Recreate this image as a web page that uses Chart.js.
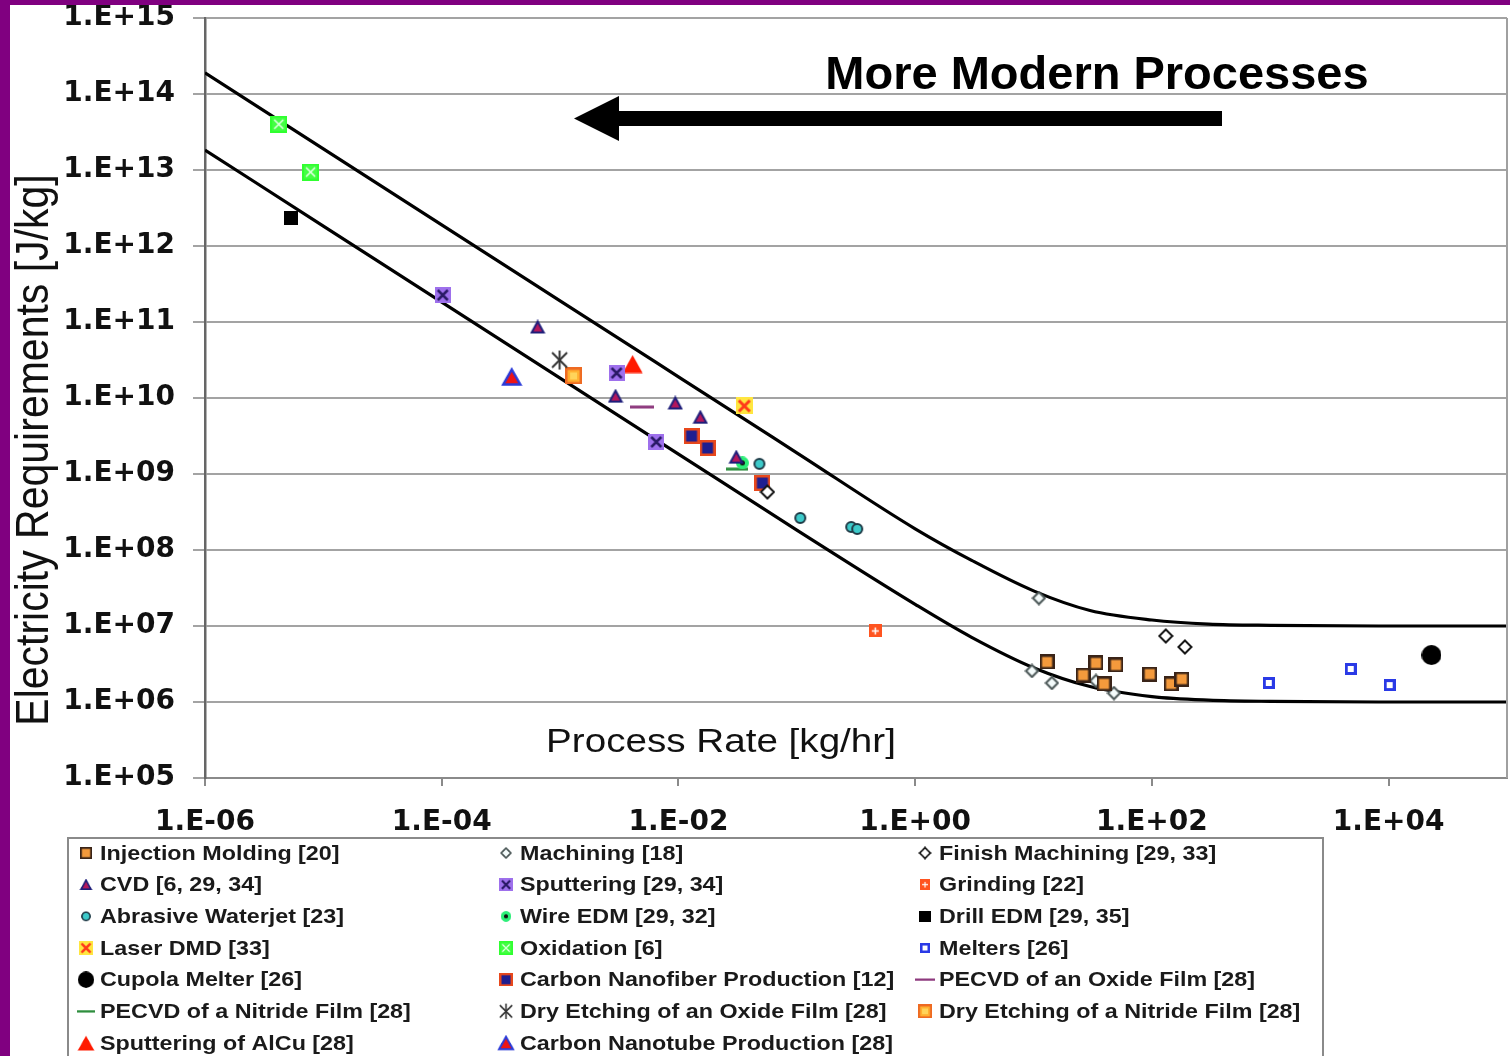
<!DOCTYPE html>
<html><head><meta charset="utf-8">
<script src="https://cdn.jsdelivr.net/npm/chart.js@4.4.1/dist/chart.umd.min.js"></script>
<style>
html,body{margin:0;padding:0;background:#fff;}
#wrap{position:relative;width:1510px;height:1056px;background:#fff;overflow:hidden}
#c{position:absolute;left:0;top:0}
.pl{position:absolute;left:0;top:0;width:10px;height:1056px;background:#800080}
.pt{position:absolute;left:0;top:0;width:1510px;height:5px;background:#800080}
</style></head><body>
<div id="wrap"><canvas id="c" width="1510" height="1056"></canvas><div class="pl"></div><div class="pt"></div></div>
<script>
// ---------- tick values / labels ----------
const xTickValues = [1e-6, 1e-4, 1e-2, 1e0, 1e2, 1e4];
const xTickLabels = ['1.E-06', '1.E-04', '1.E-02', '1.E+00', '1.E+02', '1.E+04'];
const yTickValues = [1e5, 1e6, 1e7, 1e8, 1e9, 1e10, 1e11, 1e12, 1e13, 1e14, 1e15];
const yTickLabels = ['1.E+05', '1.E+06', '1.E+07', '1.E+08', '1.E+09', '1.E+10', '1.E+11', '1.E+12', '1.E+13', '1.E+14', '1.E+15'];

// ---------- bounding curves ----------
const upperBoundRate   = [1e-6, 1e-5, 1e-4, 1e-3, 1e-2, 1e-1, 1, 3, 10, 30, 100, 300, 1000, 1e4, 1e5];
const upperBoundEnergy = [1.9e14, 1.9e13, 1.9e12, 1.9e11, 1.9e10, 1.9e9, 1.9e8, 7.3e7, 2.9e7, 1.6e7, 1.2e7, 1.06e7, 1.02e7, 1.0e7, 1.0e7];
const lowerBoundRate   = [1e-6, 1e-5, 1e-4, 1e-3, 1e-2, 1e-1, 1, 3, 10, 30, 100, 300, 1000, 1e4, 1e5];
const lowerBoundEnergy = [1.83e13, 1.83e12, 1.83e11, 1.83e10, 1.83e9, 1.83e8, 1.93e7, 7.1e6, 2.83e6, 1.6e6, 1.18e6, 1.06e6, 1.02e6, 1.0e6, 1.0e6];

// ---------- process series: rate [kg/hr], electricity [J/kg] ----------
const injectionMoldingRate   = [13.0, 26.2, 33.7, 49.7, 39.4, 96, 145, 179];
const injectionMoldingEnergy = [3.36e6, 2.26e6, 3.26e6, 3.07e6, 1.73e6, 2.33e6, 1.73e6, 2.0e6];
const machiningRate   = [11.1, 9.7, 14.3, 33.7, 47.8];
const machiningEnergy = [2.33e7, 2.56e6, 1.78e6, 1.89e6, 1.31e6];
const finishMachiningRate   = [0.0564, 131, 190];
const finishMachiningEnergy = [5.8e8, 7.4e6, 5.3e6];
const cvdRate   = [6.46e-4, 2.94e-3, 9.4e-3, 1.53e-2, 3.08e-2];
const cvdEnergy = [8.6e10, 1.06e10, 8.6e9, 5.6e9, 1.67e9];
const sputteringRate   = [1.02e-4, 3.0e-3, 6.5e-3];
const sputteringEnergy = [2.26e11, 2.13e10, 2.64e9];
const grindingRate   = [0.46];
const grindingEnergy = [8.6e6];
const waterjetRate   = [0.0483, 0.107, 0.288, 0.324];
const waterjetEnergy = [1.36e9, 2.64e8, 2.01e8, 1.89e8];
const wireEdmRate   = [3.47e-2];
const wireEdmEnergy = [1.4e9];
const drillEdmRate   = [5.3e-6];
const drillEdmEnergy = [2.33e12];
const laserDmdRate   = [3.6e-2];
const laserDmdEnergy = [7.85e9];
const oxidationRate   = [4.2e-6, 7.8e-6];
const oxidationEnergy = [4.0e13, 9.4e12];
const meltersRate   = [971, 4780, 1.02e4];
const meltersEnergy = [1.78e6, 2.72e6, 1.67e6];
const cupolaRate   = [2.3e4];
const cupolaEnergy = [4.15e6];
const nanofiberRate   = [1.29e-2, 1.76e-2, 5.12e-2];
const nanofiberEnergy = [3.16e9, 2.2e9, 7.6e8];
const pecvdOxideRate   = [4.9e-3];
const pecvdOxideEnergy = [7.6e9];
const pecvdNitrideRate   = [3.15e-2];
const pecvdNitrideEnergy = [1.16e9];
const dryEtchOxideRate   = [9.9e-4];
const dryEtchOxideEnergy = [3.16e10];
const dryEtchNitrideRate   = [1.3e-3];
const dryEtchNitrideEnergy = [1.95e10];
const sputterAlCuRate   = [4.1e-3];
const sputterAlCuEnergy = [2.8e10];
const nanotubeRate   = [3.9e-4];
const nanotubeEnergy = [1.89e10];

// ---------- marker images ----------
function mk(w, h, fn) { const c = document.createElement('canvas'); c.width = w; c.height = h; fn(c.getContext('2d'), w, h); return c; }
function sq(g, w, h, outer, inner, bw) { g.fillStyle = outer; g.fillRect(0, 0, w, h); if (inner) { g.fillStyle = inner; g.fillRect(bw, bw, w - 2 * bw, h - 2 * bw); } }
function xmark(g, w, h, color, lw, m) { g.strokeStyle = color; g.lineWidth = lw; g.beginPath(); g.moveTo(m, m); g.lineTo(w - m, h - m); g.moveTo(w - m, m); g.lineTo(m, h - m); g.stroke(); }
function diamond(g, w, h, fill, stroke) { g.beginPath(); g.moveTo(w / 2, 1.5); g.lineTo(w - 1.5, h / 2); g.lineTo(w / 2, h - 1.5); g.lineTo(1.5, h / 2); g.closePath(); g.fillStyle = fill; g.fill(); g.lineWidth = 2; g.strokeStyle = stroke; g.stroke(); }
function tri(g, w, h, fill, stroke, lw) { g.beginPath(); g.moveTo(w / 2, lw); g.lineTo(w - lw, h - lw); g.lineTo(lw, h - lw); g.closePath(); g.fillStyle = fill; g.fill(); if (stroke) { g.lineWidth = lw; g.strokeStyle = stroke; g.lineJoin = 'miter'; g.stroke(); } }
function circ(g, w, h, fill, stroke, lw) { g.beginPath(); g.arc(w / 2, h / 2, w / 2 - (lw || 0), 0, Math.PI * 2); g.fillStyle = fill; g.fill(); if (stroke) { g.lineWidth = lw; g.strokeStyle = stroke; g.stroke(); } }

const markers = {
  injection: mk(15, 15, (g, w, h) => sq(g, w, h, '#3a2418', '#F49A3C', 2.5)),
  machining: mk(15, 15, (g, w, h) => diamond(g, w, h, '#f4fbfb', '#4a5656')),
  finish: mk(16, 16, (g, w, h) => diamond(g, w, h, '#ffffff', '#151515')),
  cvd: mk(16, 15, (g, w, h) => tri(g, w, h, '#B4175C', '#1E1E7A', 2)),
  sputtering: mk(16, 16, (g, w, h) => { sq(g, w, h, '#9E70EC'); xmark(g, w, h, '#2A1A66', 2.5, 3); }),
  grinding: mk(13, 13, (g, w, h) => { sq(g, w, h, '#FF5420'); g.strokeStyle = '#fff'; g.lineWidth = 1.5; g.beginPath(); g.moveTo(w / 2, 3); g.lineTo(w / 2, h - 3); g.moveTo(3, h / 2); g.lineTo(w - 3, h / 2); g.stroke(); }),
  waterjet: mk(14, 14, (g, w, h) => circ(g, w, h, '#3DCACA', '#1E3A46', 2)),
  wireEdm: mk(13, 13, (g, w, h) => { circ(g, w, h, '#2BEE77'); g.fillStyle = '#111'; g.beginPath(); g.arc(w / 2, h / 2, 2.5, 0, Math.PI * 2); g.fill(); }),
  drillEdm: mk(14, 14, (g, w, h) => sq(g, w, h, '#000')),
  laserDmd: mk(17, 17, (g, w, h) => { sq(g, w, h, '#FFE640'); xmark(g, w, h, '#FF3A1A', 3, 3); }),
  oxidation: mk(17, 17, (g, w, h) => { sq(g, w, h, '#30FF30', '#44FF44', 2); xmark(g, w, h, '#E8FFE8', 1.5, 4); }),
  melters: mk(12, 12, (g, w, h) => sq(g, w, h, '#2A3AE6', '#ffffff', 3)),
  cupola: mk(20, 20, (g, w, h) => circ(g, w, h, '#000')),
  nanofiber: mk(16, 16, (g, w, h) => sq(g, w, h, '#E8481C', '#1E1E90', 2.5)),
  pecvdOxide: mk(24, 4, (g, w, h) => { g.fillStyle = '#8E3A7E'; g.fillRect(0, 0.5, w, 3); }),
  pecvdNitride: mk(22, 4, (g, w, h) => { g.fillStyle = '#2E8E3E'; g.fillRect(0, 0.5, w, 3); }),
  dryEtchOxide: mk(21, 21, (g, w, h) => { xmark(g, w, h, '#333', 2, 3); g.beginPath(); g.moveTo(w / 2, 1); g.lineTo(w / 2, h - 1); g.stroke(); }),
  dryEtchNitride: mk(17, 17, (g, w, h) => { sq(g, w, h, '#EE6A22', '#FFB030', 2.5); g.fillStyle = '#FFD45A'; g.fillRect(5, 5, 7, 7); }),
  alcu: mk(21, 19, (g, w, h) => tri(g, w, h, '#FF1A00', null, 0.5)),
  nanotube: mk(22, 20, (g, w, h) => tri(g, w, h, '#EE1414', '#2B3BD8', 2.5))
};

const series = [
  { label: 'Injection Molding [20]', rate: injectionMoldingRate, energy: injectionMoldingEnergy, marker: 'injection' },
  { label: 'Machining [18]', rate: machiningRate, energy: machiningEnergy, marker: 'machining' },
  { label: 'Finish Machining [29, 33]', rate: finishMachiningRate, energy: finishMachiningEnergy, marker: 'finish' },
  { label: 'CVD [6, 29, 34]', rate: cvdRate, energy: cvdEnergy, marker: 'cvd' },
  { label: 'Sputtering [29, 34]', rate: sputteringRate, energy: sputteringEnergy, marker: 'sputtering' },
  { label: 'Grinding [22]', rate: grindingRate, energy: grindingEnergy, marker: 'grinding' },
  { label: 'Abrasive Waterjet [23]', rate: waterjetRate, energy: waterjetEnergy, marker: 'waterjet' },
  { label: 'Wire EDM [29, 32]', rate: wireEdmRate, energy: wireEdmEnergy, marker: 'wireEdm' },
  { label: 'Drill EDM [29, 35]', rate: drillEdmRate, energy: drillEdmEnergy, marker: 'drillEdm' },
  { label: 'Laser DMD [33]', rate: laserDmdRate, energy: laserDmdEnergy, marker: 'laserDmd' },
  { label: 'Oxidation [6]', rate: oxidationRate, energy: oxidationEnergy, marker: 'oxidation' },
  { label: 'Melters [26]', rate: meltersRate, energy: meltersEnergy, marker: 'melters' },
  { label: 'Cupola Melter [26]', rate: cupolaRate, energy: cupolaEnergy, marker: 'cupola' },
  { label: 'Carbon Nanofiber Production [12]', rate: nanofiberRate, energy: nanofiberEnergy, marker: 'nanofiber' },
  { label: 'PECVD of an Oxide Film [28]', rate: pecvdOxideRate, energy: pecvdOxideEnergy, marker: 'pecvdOxide' },
  { label: 'PECVD of a Nitride Film [28]', rate: pecvdNitrideRate, energy: pecvdNitrideEnergy, marker: 'pecvdNitride' },
  { label: 'Dry Etching of an Oxide Film [28]', rate: dryEtchOxideRate, energy: dryEtchOxideEnergy, marker: 'dryEtchOxide' },
  { label: 'Dry Etching of a Nitride Film [28]', rate: dryEtchNitrideRate, energy: dryEtchNitrideEnergy, marker: 'dryEtchNitride' },
  { label: 'Sputtering of AlCu [28]', rate: sputterAlCuRate, energy: sputterAlCuEnergy, marker: 'alcu' },
  { label: 'Carbon Nanotube Production [28]', rate: nanotubeRate, energy: nanotubeEnergy, marker: 'nanotube' }
];

const pts = (xs, ys) => xs.map((x, i) => ({ x: x, y: ys[i] }));
const datasets = series.map(s => ({
  label: s.label, data: pts(s.rate, s.energy), pointStyle: markers[s.marker],
  pointRadius: 7, pointHoverRadius: 7, showLine: false, order: 1, isProcess: true
}));
datasets.push({ label: 'upper', data: pts(upperBoundRate, upperBoundEnergy), showLine: true, borderColor: '#000', borderWidth: 3.2, pointRadius: 0, cubicInterpolationMode: 'monotone', order: 10 });
datasets.push({ label: 'lower', data: pts(lowerBoundRate, lowerBoundEnergy), showLine: true, borderColor: '#000', borderWidth: 3.2, pointRadius: 0, cubicInterpolationMode: 'monotone', order: 10 });

function sText(ctx, txt, x, y, font, sx, align, color) {
  ctx.save(); ctx.font = font; ctx.fillStyle = color || '#000'; ctx.textBaseline = 'middle'; ctx.textAlign = align || 'left';
  ctx.translate(x, y); ctx.scale(sx, 1); ctx.fillText(txt, 0, 0); ctx.restore();
}

const decorPlugin = {
  id: 'decor',
  beforeDraw(chart) {
    const ctx = chart.ctx; ctx.save(); ctx.fillStyle = '#fff'; ctx.fillRect(0, 0, chart.width, chart.height); ctx.restore();
  },
  afterDatasetsDraw(chart) {
    const ctx = chart.ctx, a = chart.chartArea;
    // right frame
    ctx.save(); ctx.strokeStyle = '#A0A0A0'; ctx.lineWidth = 2;
    ctx.beginPath(); ctx.moveTo(a.right, a.top); ctx.lineTo(a.right, a.bottom); ctx.stroke(); ctx.restore();
    // axis titles
    sText(ctx, 'Process Rate [kg/hr]', 721, 743, '33px "Liberation Sans", Arial, sans-serif', 1.17, 'center', '#111');
    ctx.save(); ctx.translate(35, 450); ctx.rotate(-Math.PI / 2); ctx.scale(1, 1.12);
    ctx.font = '41px "Liberation Sans", Arial, sans-serif'; ctx.fillStyle = '#111'; ctx.textAlign = 'center'; ctx.textBaseline = 'middle';
    ctx.fillText('Electricity Requirements [J/kg]', 0, 0); ctx.restore();
    // annotation
    sText(ctx, 'More Modern Processes', 1097, 76, 'bold 47px "Liberation Sans", Arial, sans-serif', 1.0, 'center', '#000');
    ctx.save(); ctx.fillStyle = '#000';
    ctx.fillRect(615, 111, 607, 15);
    ctx.beginPath(); ctx.moveTo(574, 118.5); ctx.lineTo(619, 96); ctx.lineTo(619, 141); ctx.closePath(); ctx.fill();
    ctx.restore();
    // legend
    ctx.save(); ctx.strokeStyle = '#8a8a8a'; ctx.lineWidth = 2; ctx.strokeRect(68, 838, 1255, 260); ctx.restore();
    const colX = [86, 506, 925];
    chart.data.datasets.filter(d => d.isProcess).forEach((d, i) => {
      const col = i % 3, row = Math.floor(i / 3);
      const cx = colX[col], cy = 853 + row * 31.67;
      const img = d.pointStyle, s = 0.82;
      ctx.drawImage(img, cx - img.width * s / 2, cy - img.height * s / 2, img.width * s, img.height * s);
      sText(ctx, d.label, cx + 14, cy + 1, 'bold 21px "Liberation Sans", Arial, sans-serif', 1.11, 'left', '#1a1a1a');
    });
  }
};

new Chart(document.getElementById('c'), {
  type: 'scatter',
  data: { datasets: datasets },
  options: {
    responsive: false, animation: false, devicePixelRatio: 1,
    layout: { autoPadding: false, padding: { top: 18, right: 3, left: 0, bottom: 0 } },
    plugins: { legend: { display: false }, tooltip: { enabled: false } },
    scales: {
      x: {
        type: 'logarithmic', position: 'bottom', min: 1e-6, max: 1e5,
        afterBuildTicks: s => { s.ticks = xTickValues.map(v => ({ value: v })); },
        afterFit: s => { s.height = 278; s.paddingLeft = 0; s.paddingRight = 0; },
        ticks: { callback: (v, i) => xTickLabels[i], autoSkip: false, maxRotation: 0, padding: 20, color: '#111',
          font: { family: 'DejaVu Sans', size: 28, weight: 'bold' } },
        grid: { drawOnChartArea: false, tickLength: 8, color: '#8a8a8a', lineWidth: 2 },
        border: { color: '#8a8a8a', width: 2 }
      },
      y: {
        type: 'logarithmic', position: 'left', min: 1e5, max: 1e15,
        afterBuildTicks: s => { s.ticks = yTickValues.map(v => ({ value: v })); },
        afterFit: s => { s.width = 205; s.paddingTop = 0; s.paddingBottom = 0; },
        ticks: { callback: (v, i) => yTickLabels[i], autoSkip: false, padding: 18, color: '#111',
          font: { family: 'DejaVu Sans', size: 28, weight: 'bold' } },
        grid: { color: '#A3A3A3', lineWidth: 2, tickLength: 12 },
        border: { color: '#666', width: 2.5 }
      }
    }
  },
  plugins: [decorPlugin]
});
</script>
</body></html>
